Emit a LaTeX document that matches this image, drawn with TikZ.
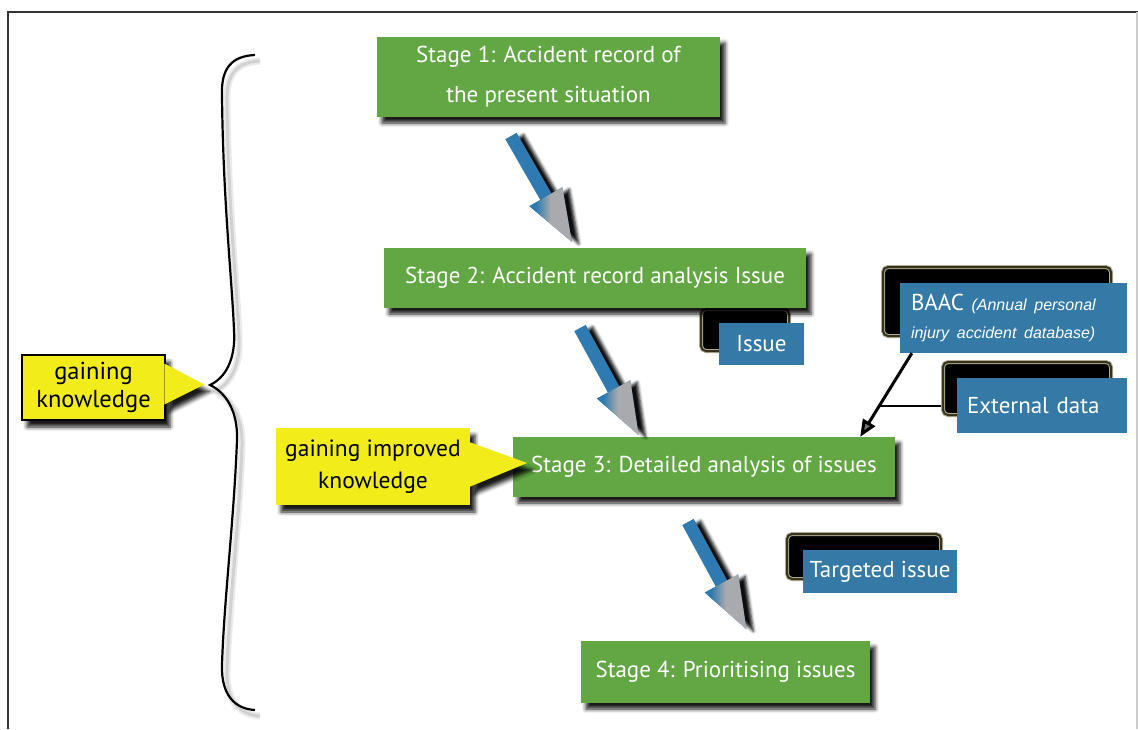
\documentclass[tikz,border=0pt]{standalone}
\usepackage{fontspec}
\setmainfont{PT Sans}
\newfontfamily\notefont{Liberation Sans}
\usepackage{xcolor}
\definecolor{stage-green}{HTML}{62A744}
\definecolor{issue-blue}{HTML}{3579A6}
\definecolor{note-yellow}{HTML}{F2EC1A}
\definecolor{arrow-blue}{HTML}{2F7AB0}
\definecolor{arrow-grey}{HTML}{A9AAAE}
\definecolor{glow-edge}{HTML}{6E6438}
\usepackage{tikz}
\usetikzlibrary{calc,arrows.meta,shadows.blur}

\pgfdeclarehorizontalshading{arrowhead}{100bp}{color(0bp)=(arrow-blue); color(33bp)=(arrow-blue);
  color(50bp)=(arrow-grey); color(100bp)=(arrow-grey)}

% big blue-grey arrow: tail x, tail y, angle
\newcommand{\gradarrow}[3]{%
  \begin{scope}[shift={(#1,#2)}, rotate=#3]
    \fill[arrow-blue, blur shadow={shadow xshift=7pt, shadow yshift=-2pt, shadow opacity=95, shadow blur radius=3pt}]
      (0,-6.5) -- (70,-6.5) -- (70,-19) -- (122,0) -- (70,19) -- (70,6.5) -- (0,6.5) -- cycle;
    \coordinate (headA) at (70,-19);
    \coordinate (headB) at (122,0);
    \coordinate (headC) at (70,19);
  \end{scope}
  \shade[shading=arrowhead] (headA) -- (headB) -- (headC) -- cycle;}

\begin{document}
\begin{tikzpicture}[x=1pt, y=-1pt,
  stage/.style={fill=stage-green, text=white, font=\fontsize{23}{40}\selectfont, align=center, inner sep=0pt,
    blur shadow={shadow xshift=5pt, shadow yshift=-6pt, shadow blur radius=4pt, shadow opacity=90}},
  issue/.style={fill=issue-blue, text=white, font=\fontsize{23}{28}\selectfont, inner sep=0pt},
  glow/.style={fill=black, draw=glow-edge!55, line width=4pt, rounded corners=5pt, inner sep=0pt,
    postaction={draw=glow-edge!50!black, line width=2pt}},
  note/.style={fill=note-yellow, align=center, inner sep=0pt,
    blur shadow={shadow xshift=5pt, shadow yshift=-7pt, shadow blur radius=4pt, shadow opacity=90}},
  pointer/.style={fill=note-yellow,
    blur shadow={shadow xshift=5pt, shadow yshift=-7pt, shadow blur radius=4pt, shadow opacity=90}}]

  \useasboundingbox (0,0) rectangle (1138,729);

  % Frame
  \draw[line width=2.5pt, black!80] (8,729) -- (8,12) -- (1138,12);
  \draw[line width=1.5pt, black!20] (1137,12) -- (1137,729);

  % Brace with its shadow
  \draw[line width=7pt, black!8, shift={(5,6)}] (255,55) .. controls (232,56) and (221,68) .. (222,95)
    .. controls (223,200) and (232,280) .. (234,330) .. controls (236,360) and (225,378) .. (210,385)
    .. controls (225,392) and (238,410) .. (237,440) .. controls (234,520) and (224,600) .. (222,665)
    .. controls (221,695) and (235,709) .. (255,710);
  \draw[line width=3pt, black!18, shift={(5,6)}] (255,55) .. controls (232,56) and (221,68) .. (222,95)
    .. controls (223,200) and (232,280) .. (234,330) .. controls (236,360) and (225,378) .. (210,385)
    .. controls (225,392) and (238,410) .. (237,440) .. controls (234,520) and (224,600) .. (222,665)
    .. controls (221,695) and (235,709) .. (255,710);
  \draw[line width=2.2pt] (255,55) .. controls (232,56) and (221,68) .. (222,95)
    .. controls (223,200) and (232,280) .. (234,330) .. controls (236,360) and (225,378) .. (210,385)
    .. controls (225,392) and (238,410) .. (237,440) .. controls (234,520) and (224,600) .. (222,665)
    .. controls (221,695) and (235,709) .. (255,710);

  % Black glow behind the blue boxes
  \node[glow, minimum width=88, minimum height=42] (issueglow) at (745,330) {};
  \node[glow, minimum width=228, minimum height=69] (baacglow) at (997,301.5) {};
  \node[glow, minimum width=168, minimum height=53] (extglow) at (1027,388.5) {};
  \node[glow, minimum width=154, minimum height=45] (targetglow) at (864,556.5) {};

  % Stages
  \node[stage, minimum width=343, minimum height=80] (stage1) at (548.5,77)
    {Stage 1: Accident record of\\the present situation};
  \node[stage, minimum width=422, minimum height=60] (stage2) at (595,278)
    {Stage 2: Accident record analysis Issue};
  \node[stage, minimum width=382, minimum height=60] (stage3) at (704,467)
    {Stage 3: Detailed analysis of issues};
  \node[stage, minimum width=289, minimum height=62] (stage4) at (725.5,672)
    {Stage 4: Prioritising issues};

  % Blue boxes
  \node[issue, minimum width=85, minimum height=42] (issue) at (761.5,344) {Issue};
  \node[issue, minimum width=227, minimum height=70, text width=205, align=left] (baac) at (1013.5,318)
    {BAAC {\notefont\itshape\fontsize{16}{23}\selectfont (Annual personal\\injury accident database)}};
  \node[issue, minimum width=170, minimum height=55, text width=150, align=left] (external) at (1042,405.5)
    {External data};
  \node[issue, minimum width=154, minimum height=43] (targeted) at (880,571.5) {Targeted issue};

  % Yellow notes
  \node[note, draw=black, line width=2.5pt, minimum width=143, minimum height=65,
    font=\fontsize{24.5}{28}\selectfont] (know) at (93.5,387.5) {gaining\\knowledge};
  \fill[pointer] ($(know.east)+(-2,-24)$) -- ($(know.east)+(38,-3)$) -- ($(know.east)+(-2,17)$) -- cycle;
  \node[note, minimum width=194, minimum height=77, font=\fontsize{23.5}{32}\selectfont]
    (improved) at (373,466.5) {gaining improved\\knowledge};
  \fill[pointer] ($(improved.east)+(-1,-24.5)$) -- ($(improved.east)+(57,-3.5)$) -- ($(improved.east)+(-1,20.5)$) -- cycle;

  % Big arrows between the stages
  \gradarrow{511}{136}{-60.1}
  \gradarrow{580}{328}{-61.3}
  \gradarrow{688}{522}{-61.4}

  % Data going into stage 3
  \coordinate (baacfoot) at ($(baac.south west)+(12,0)$);
  \coordinate (s3top) at ($(stage3.north east)+(-35,0)$);
  \coordinate (join) at ($(baacfoot)!0.63!(s3top)$);
  \draw[line width=3pt, -{Triangle[length=17pt,width=14pt]}] (baacfoot) -- (s3top);
  \draw[line width=2.5pt] (join) -- (join -| extglow.west);

\end{tikzpicture}
\end{document}
